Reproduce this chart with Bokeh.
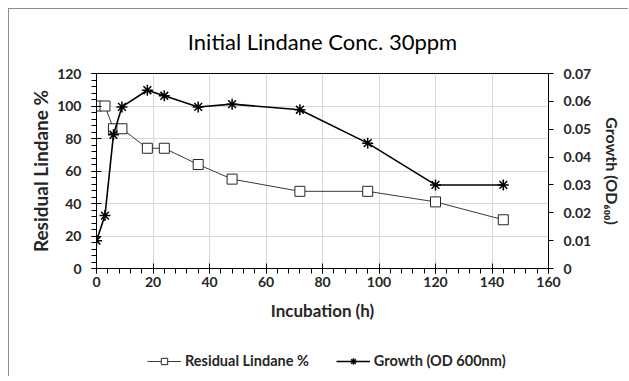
from bokeh.plotting import figure
from bokeh.models import Range1d, LinearAxis, FixedTicker, Legend, LegendItem
from bokeh.layouts import column
from bokeh.embed import file_html
from bokeh.resources import INLINE

hours = [0, 3, 6, 9, 18, 24, 36, 48, 72, 96, 120, 144]
residual = [100, 100, 86, 86, 74, 74, 64, 55, 47.5, 47.5, 41, 30]
growth = [0.010, 0.019, 0.048, 0.058, 0.064, 0.062, 0.058, 0.059, 0.057, 0.045, 0.030, 0.030]

x_ticks = [0, 20, 40, 60, 80, 100, 120, 140, 160]
left_ticks = [0, 20, 40, 60, 80, 100, 120]
right_ticks = [0, 0.01, 0.02, 0.03, 0.04, 0.05, 0.06, 0.07]
right_labels = ["0", "0.01", "0.02", "0.03", "0.04", "0.05", "0.06", "0.07"]
series_names = ["Residual Lindane %", "Growth (OD 600nm)"]

FONT = "Lato"
TXT = "#262626"
RES_LINE = dict(line_color="#3a3a3a", line_width=1)
RES_MARK = dict(marker="square", size=10, fill_color="white", line_color="#262626", line_width=1)
GRO_LINE = dict(line_color="#000000", line_width=1.6)
GRO_MARK = dict(marker="asterisk", size=11, line_color="#000000", line_width=1.5)

p = figure(frame_width=452, frame_height=195, output_backend="svg", toolbar_location=None,
           x_range=Range1d(0, 160), y_range=Range1d(0, 120),
           min_border_left=87, min_border_right=80, min_border_top=64, min_border_bottom=58,
           title="Initial Lindane Conc. 30ppm")
p.title.align = "center"
p.title.vertical_align = "top"
p.title.text_font = FONT
p.title.text_font_size = "22px"
p.title.text_font_style = "normal"
p.title.text_color = "#000000"
p.title.offset = 0
p.title.standoff = 34

p.outline_line_color = "#000000"
p.outline_line_width = 1
p.background_fill_color = "white"
p.border_fill_color = "white"

p.extra_y_ranges = {"od": Range1d(0, 0.07)}

p.xgrid.ticker = FixedTicker(ticks=x_ticks)
p.ygrid.ticker = FixedTicker(ticks=left_ticks)
p.xgrid.grid_line_color = "#d9d9d9"
p.ygrid.grid_line_color = "#d9d9d9"

def style_axis(ax, label_size):
    ax.axis_line_color = "#000000"
    ax.major_tick_line_color = "#000000"
    ax.minor_tick_line_color = "#000000"
    ax.major_label_text_font = FONT
    ax.major_label_text_font_style = "bold"
    ax.major_label_text_font_size = "14px"
    ax.major_label_text_color = TXT
    ax.axis_label_text_font = FONT
    ax.axis_label_text_font_style = "bold"
    ax.axis_label_text_font_size = label_size
    ax.axis_label_text_color = TXT

xa = p.xaxis[0]
xa.ticker = FixedTicker(ticks=x_ticks, minor_ticks=list(range(0, 161, 4)))
xa.axis_label = "Incubation (h)"
style_axis(xa, "17px")
xa.major_tick_in = 5
xa.major_tick_out = 5
xa.minor_tick_in = 0
xa.minor_tick_out = 5
xa.major_label_standoff = 3
xa.axis_label_standoff = 10

ya = p.yaxis[0]
ya.ticker = FixedTicker(ticks=left_ticks, minor_ticks=list(range(0, 121, 4)))
ya.axis_label = "Residual Lindane %"
style_axis(ya, "19px")
ya.major_tick_in = 5
ya.major_tick_out = 5
ya.minor_tick_in = 0
ya.minor_tick_out = 5
ya.major_label_standoff = 10
ya.axis_label_standoff = 2

ra = LinearAxis(y_range_name="od", ticker=FixedTicker(ticks=right_ticks, minor_ticks=[]),
                axis_label="Growth (OD₆₀₀)")
ra.major_label_overrides = {t: l for t, l in zip(right_ticks, right_labels)}
style_axis(ra, "16px")
ra.major_tick_in = 0
ra.major_tick_out = 5
ra.minor_tick_in = 0
ra.minor_tick_out = 0
ra.major_label_standoff = 10
ra.axis_label_standoff = 9
p.add_layout(ra, "right")

p.line(hours, residual, **RES_LINE)
p.scatter(hours, residual, **RES_MARK)
p.line(hours, growth, y_range_name="od", **GRO_LINE)
p.scatter(hours, growth, y_range_name="od", **GRO_MARK)

# legend strip below the chart; its ranges keep the series out of view so only the legend shows
q = figure(frame_width=452, frame_height=50, output_backend="svg", toolbar_location=None,
           x_axis_type=None, y_axis_type=None,
           x_range=Range1d(0, 160), y_range=Range1d(1000, 1001),
           min_border_left=87, min_border_right=80, min_border_top=0, min_border_bottom=0)
q.outline_line_color = None
q.grid.visible = False
q.background_fill_color = "white"
q.border_fill_color = "white"
l1 = q.line(hours, residual, **RES_LINE)
m1 = q.scatter(hours, residual, **RES_MARK)
l2 = q.line(hours, growth, **GRO_LINE)
m2 = q.scatter(hours, growth, **GRO_MARK)

legend = Legend(items=[LegendItem(label=series_names[0], renderers=[l1, m1]),
                       LegendItem(label=series_names[1], renderers=[l2, m2])],
                orientation="horizontal", location=(51, 7),
                label_text_font=FONT, label_text_font_style="bold",
                label_text_font_size="14.5px", label_text_color=TXT,
                border_line_color=None, background_fill_alpha=0,
                glyph_width=34, glyph_height=16, label_standoff=4,
                spacing=27, margin=0, padding=4)
q.add_layout(legend, "center")

layout = column(p, q, spacing=0)
layout.styles = {"margin-left": "8px", "margin-top": "8px",
                 "border-left": "1px solid #8c8c8c", "border-top": "1px solid #8c8c8c"}

html = file_html(layout, INLINE)
html = html.replace("<body>", '<body style="overflow:hidden">', 1)
open("out.html", "w").write(html)
